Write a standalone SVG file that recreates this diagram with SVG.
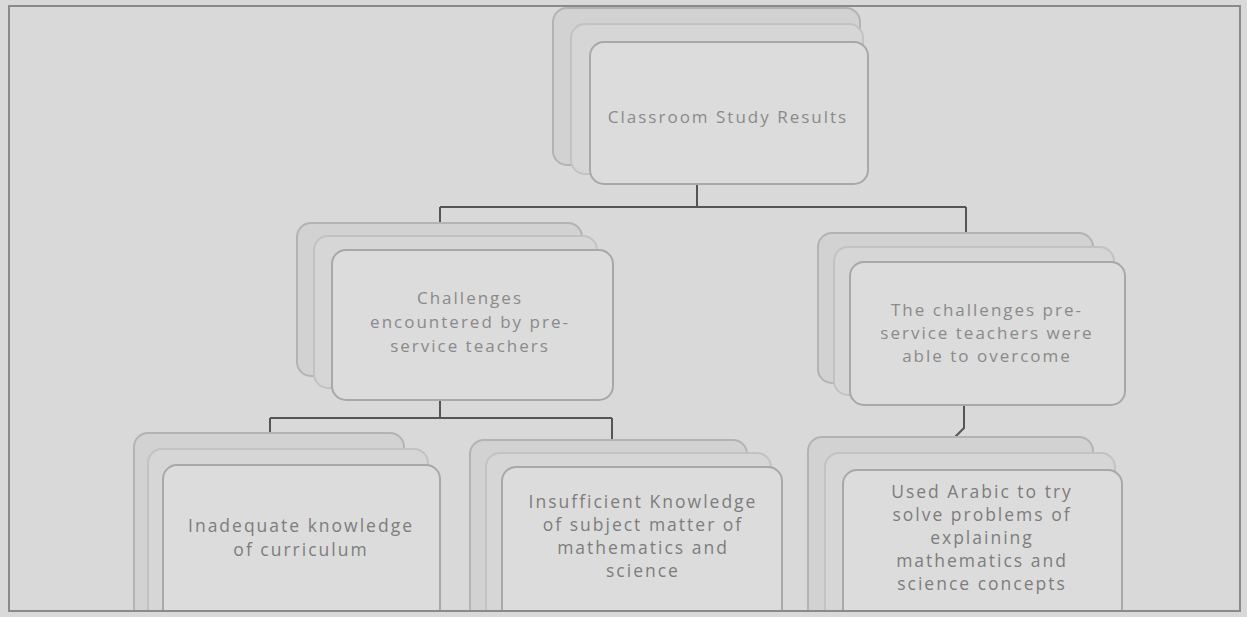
<svg xmlns="http://www.w3.org/2000/svg" width="1247" height="617" viewBox="0 0 1247 617">
<style>
.bg{fill:#d9d9d9}
.frame{fill:none;stroke:#8a8a8a;stroke-width:2}
.back{fill:#d2d2d2;stroke:#b3b3b3;stroke-width:2}
.mid{fill:#d6d6d6;stroke:#c2c2c2;stroke-width:2}
.front{fill:#dcdcdc;stroke:#a8a8a8;stroke-width:2}
.t{font-family:"Open Sans","Liberation Sans",sans-serif;font-size:17.5px;letter-spacing:2px;fill:#7d7d7d;text-anchor:middle}
.tb{font-family:"Open Sans","Liberation Sans",sans-serif;font-size:17px;letter-spacing:2px;fill:#8a8a8a;text-anchor:middle}
.c{fill:none;stroke:#555;stroke-width:2}
</style>
<rect class="bg" x="0" y="0" width="1247" height="617"/>
<rect class="frame" x="9" y="6" width="1231" height="605"/>
<g id="connectors">
<path class="c" d="M697 185 V207 M440 207 H966 M440 207 V250 M966 207 V262"/>
<path class="c" d="M440 400 V418 M270 418 H612 M270 418 V465 M612 418 V467"/>
<path class="c" d="M964 405 V428 L956 436 V470"/>
</g>
<g id="n-top">
<rect class="back" x="553" y="8" width="307" height="157" rx="14"/>
<rect class="mid" x="571" y="24" width="292" height="150" rx="14"/>
<rect class="front" x="590" y="42" width="278" height="142" rx="14"/>
<text class="tb" x="728" y="123">Classroom Study Results</text>
</g>
<g id="n-left">
<rect class="back" x="297" y="223" width="285" height="153" rx="14"/>
<rect class="mid" x="314" y="236" width="283" height="152" rx="14"/>
<rect class="front" x="332" y="250" width="281" height="150" rx="14"/>
<text class="tb" x="470" y="304">Challenges</text>
<text class="tb" x="470" y="328">encountered by pre-</text>
<text class="tb" x="470" y="352">service teachers</text>
</g>
<g id="n-right">
<rect class="back" x="818" y="233" width="275" height="150" rx="14"/>
<rect class="mid" x="834" y="247" width="280" height="148" rx="14"/>
<rect class="front" x="850" y="262" width="275" height="143" rx="14"/>
<text class="tb" x="987" y="316">The challenges pre-</text>
<text class="tb" x="987" y="339">service teachers were</text>
<text class="tb" x="987" y="362">able to overcome</text>
</g>
<g id="n-b1">
<rect class="back" x="134" y="433" width="270" height="200" rx="14"/>
<rect class="mid" x="148" y="449" width="280" height="200" rx="14"/>
<rect class="front" x="163" y="465" width="277" height="200" rx="14"/>
<text class="t" x="301" y="532">Inadequate knowledge</text>
<text class="t" x="301" y="556">of curriculum</text>
</g>
<g id="n-b2">
<rect class="back" x="470" y="440" width="277" height="200" rx="14"/>
<rect class="mid" x="486" y="453" width="285" height="200" rx="14"/>
<rect class="front" x="502" y="467" width="280" height="200" rx="14"/>
<text class="t" x="643" y="508">Insufficient Knowledge</text>
<text class="t" x="643" y="531">of subject matter of</text>
<text class="t" x="643" y="554">mathematics and</text>
<text class="t" x="643" y="577">science</text>
</g>
<g id="n-b3">
<rect class="back" x="808" y="437" width="285" height="200" rx="14"/>
<rect class="mid" x="825" y="453" width="290" height="200" rx="14"/>
<rect class="front" x="843" y="470" width="279" height="200" rx="14"/>
<text class="t" x="982" y="498">Used Arabic to  try</text>
<text class="t" x="982" y="521">solve problems of</text>
<text class="t" x="982" y="544">explaining</text>
<text class="t" x="982" y="567">mathematics and</text>
<text class="t" x="982" y="590">science concepts</text>
</g>
<rect class="bg" x="0" y="612" width="1247" height="5"/>
<line x1="8" y1="611" x2="1241" y2="611" stroke="#8a8a8a" stroke-width="2"/>
</svg>
